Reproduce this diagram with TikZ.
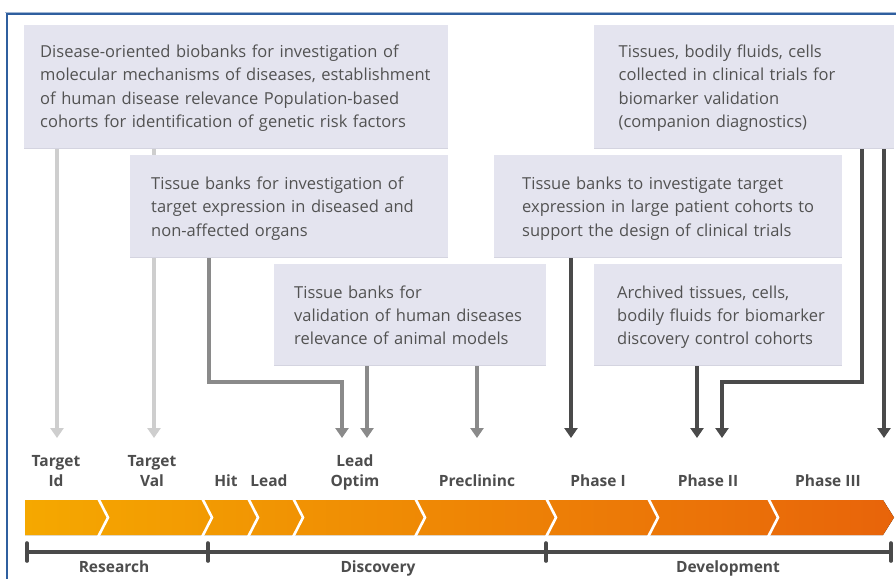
\documentclass[tikz,border=0pt]{standalone}
\usepackage{fontspec}
\setmainfont{Open Sans}
\usetikzlibrary{arrows.meta}

\definecolor{boxfill}{RGB}{228,228,239}
\definecolor{boxedge}{RGB}{212,212,224}
\definecolor{txt}{RGB}{82,82,82}
\definecolor{lbl}{RGB}{77,77,77}
\definecolor{frameblue}{RGB}{47,95,159}
\definecolor{lightarr}{RGB}{206,206,206}
\definecolor{midarr}{RGB}{138,138,138}
\definecolor{darkarr}{RGB}{74,74,74}
\definecolor{orangeL}{RGB}{245,168,0}
\definecolor{orangeR}{RGB}{232,100,10}

\pgfdeclarelayer{paper}
\pgfdeclarelayer{links}
\pgfsetlayers{paper,links,main}

\tikzset{
  bank/.style={fill=boxfill, draw=none, inner sep=0pt, anchor=north west},
  banktext/.style={anchor=base west, inner sep=0pt, text width=#1, align=left,
    text=txt, font=\fontsize{16.5}{23.3}\selectfont},
  stage/.style={font=\bfseries\fontsize{15.5}{20}\selectfont, text=lbl,
    align=center, inner sep=0pt, anchor=base},
  phase/.style={font=\bfseries\fontsize{15.5}{20}\selectfont, text=lbl,
    inner sep=0pt, anchor=base},
  feed/.style={line width=3.3pt, miter limit=10, -{Triangle[width=13pt,length=10pt]}},
  timeline/.style={draw=darkarr, line width=4pt},
  tick/.style={draw=darkarr, line width=3.6pt, line cap=round},
  notch/.style={draw=white, line width=2.6pt},
}

\begin{document}
\begin{tikzpicture}[x=1pt,y=-1pt]
\useasboundingbox (0,0) rectangle (896,579);
\begin{pgfonlayer}{paper}
  \fill[white] (0,0) rectangle (896,579);
\end{pgfonlayer}

% outer frame
\draw[frameblue!45, line width=1pt] (5,12.2) -- (896,12.2);
\draw[frameblue, line width=2pt] (6,14.3) -- (896,14.3);
\draw[frameblue, line width=2pt] (6.5,13.3) -- (6.5,579);

% biobank boxes
\node[bank, minimum width=424pt, minimum height=123pt] (A) at (24,25) {};
\node[bank, minimum width=300pt, minimum height=123pt] (B) at (594,25) {};
\node[bank, minimum width=318pt, minimum height=102pt] (C) at (130,155) {};
\node[bank, minimum width=348pt, minimum height=102pt] (D) at (494,155) {};
\node[bank, minimum width=272pt, minimum height=101pt] (E) at (274,264) {};
\node[bank, minimum width=248pt, minimum height=101pt] (F) at (594,264) {};
\foreach \b in {A,B,C,D,E,F}
  \draw[boxedge, line width=0.8pt] (\b.south west) -- (\b.south east);

\node[banktext=440pt] (tA) at (40,57.5) {Disease-oriented biobanks for investigation of\\
  molecular mechanisms of diseases, establishment\\
  of human disease relevance Population-based\\
  cohorts for identification of genetic risk factors};
\node[banktext=280pt] (tB) at (618.5,57.5) {Tissues, bodily fluids, cells\\
  collected in clinical trials for\\
  biomarker validation\\
  (companion diagnostics)};
\node[banktext=300pt] (tC) at (151,189.5) {Tissue banks for investigation of\\
  target expression in diseased and\\
  non-affected organs};
\node[banktext=330pt] (tD) at (522,189.5) {Tissue banks to investigate target\\
  expression in large patient cohorts to\\
  support the design of clinical trials};
\node[banktext=260pt] (tE) at (294,298.3) {Tissue banks for\\
  validation of human diseases\\
  relevance of animal models};
\node[banktext=230pt] (tF) at (617,298.3) {Archived tissues, cells,\\
  bodily fluids for biomarker\\
  discovery control cohorts};

% arrow end points above the stage labels
\coordinate (pTid)  at (57,438);
\coordinate (pTval) at (154,438);
\coordinate (pLOa)  at (342,438);
\coordinate (pLOb)  at (367,438);
\coordinate (pPre)  at (477,438);
\coordinate (pP1)   at (571,438);
\coordinate (pP2a)  at (697,438);
\coordinate (pP2b)  at (722,438);
\coordinate (pP3)   at (884,438);
\coordinate (kC)    at (209,382);
\coordinate (kB)    at (862,382);

% connectors from the biobanks to the stages, passing behind the boxes
\begin{pgfonlayer}{links}
\draw[feed, lightarr] (A.south -| pTid) -- (pTid);
\draw[feed, lightarr] (A.south -| pTval) -- (pTval);
\draw[feed, midarr] (C.south -| kC) -- (kC) -- (kC -| pLOa) -- (pLOa);
\draw[feed, midarr] (E.south -| pLOb) -- (pLOb);
\draw[feed, midarr] (E.south -| pPre) -- (pPre);
\draw[feed, darkarr] (D.south -| pP1) -- (pP1);
\draw[feed, darkarr] (F.south -| pP2a) -- (pP2a);
\draw[feed, darkarr] (B.south -| kB) -- (kB) -- (kB -| pP2b) -- (pP2b);
\draw[feed, darkarr] (B.south -| pP3) -- (pP3);
\end{pgfonlayer}

% stage labels (two-line labels sit on the baseline of their last line)
\node[stage] (sTid)  at (56,486)  {Target\\Id};
\node[stage] (sTval) at (152,486) {Target\\Val};
\node[phase] (sHit)  at (226,486) {Hit};
\node[phase] (sLead) at (269,486) {Lead};
\node[stage] (sLO)   at (355,486) {Lead\\Optim};
\node[phase] (sPre)  at (477,486) {Preclininc};
\node[phase] (sP1)   at (598,486) {Phase I};
\node[phase] (sP2)   at (708,486) {Phase II};
\node[phase] (sP3)   at (828,486) {Phase III};

% orange chevron bar
\fill[left color=orangeL, right color=orangeR]
  (25,500) -- (883,500) -- (894,517.5) -- (883,535) -- (25,535) -- cycle;
\foreach \x in {98,202,248,293,415,546,648,768}
  \draw[notch] (\x,498) -- (\x+10,517.5) -- (\x,537);

% phase timeline
\coordinate (t0) at (27,552);
\coordinate (t1) at (208,552);
\coordinate (t2) at (546,552);
\coordinate (t3) at (891,552);
\draw[timeline] (t0) -- (t3);
\foreach \t in {t0,t1,t2,t3}
  \draw[tick] ([yshift=9pt]\t) -- ([yshift=-9pt]\t);

\node[phase] (lRes) at (114,572.7) {Research};
\node[phase] (lDis) at (378,572.7) {Discovery};
\node[phase] (lDev) at (728,572.7) {Development};
\end{tikzpicture}
\end{document}
